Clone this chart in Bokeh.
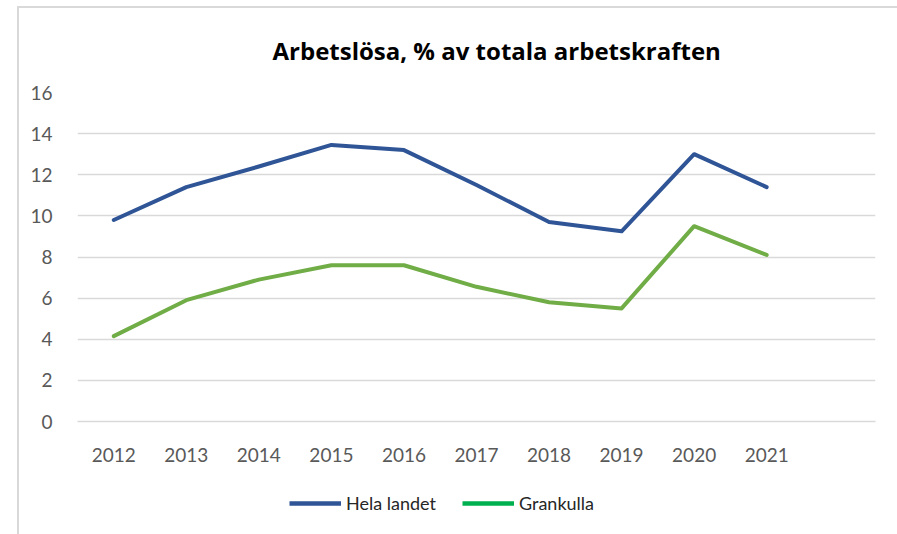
from bokeh.plotting import figure
from bokeh.models import Range1d, FixedTicker, Legend, LegendItem
from bokeh.layouts import column
from bokeh.embed import file_html
from bokeh.resources import INLINE

years = ["2012", "2013", "2014", "2015", "2016", "2017", "2018", "2019", "2020", "2021"]
hela_landet = [9.8, 11.4, 12.4, 13.45, 13.2, 11.5, 9.7, 9.25, 13.0, 11.4]
grankulla = [4.15, 5.9, 6.9, 7.6, 7.6, 6.55, 5.8, 5.5, 9.5, 8.1]
y_ticks = [0, 2, 4, 6, 8, 10, 12, 14, 16]

FONT = "Lato"
BLUE = "#2F5597"
GREEN = "#70AD47"
GREEN_LEGEND = "#00B050"
xs = list(range(len(years)))

p = figure(width=897, height=464, output_backend="svg", toolbar_location=None,
           x_range=Range1d(-0.5, len(years) + 0.5), y_range=Range1d(0, 16),
           min_border_left=77, min_border_right=22, min_border_top=92, min_border_bottom=40,
           border_fill_color=None, background_fill_color=None)

p.title.text = "Arbetslösa, % av totala arbetskraften"
p.title.align = "left"
p.title.offset = 195
p.title.text_font = "Open Sans"
p.title.text_font_size = "24px"
p.title.text_font_style = "bold"
p.title.text_color = "#000000"
p.title.standoff = 52

p.line(xs, hela_landet, line_color=BLUE, line_width=4, line_cap="round", line_join="round")
p.line(xs, grankulla, line_color=GREEN, line_width=4, line_cap="round", line_join="round")

p.xaxis.ticker = FixedTicker(ticks=xs)
p.xaxis.major_label_overrides = {i: y for i, y in enumerate(years)}
p.yaxis.ticker = FixedTicker(ticks=y_ticks)

for ax in (p.xaxis, p.yaxis):
    ax.major_tick_line_color = None
    ax.minor_tick_line_color = None
    ax.major_label_text_font = FONT
    ax.major_label_text_font_size = "19px"
    ax.major_label_text_color = "#595959"
p.yaxis.axis_line_color = None
p.xaxis.axis_line_color = "#d9d9d9"
p.xaxis.axis_line_width = 1.5
p.yaxis.major_label_standoff = 19
p.xaxis.major_label_standoff = 20

p.xgrid.grid_line_color = None
p.ygrid.grid_line_color = "#d9d9d9"
p.ygrid.grid_line_width = 1.5
p.ygrid.ticker = FixedTicker(ticks=y_ticks)
p.outline_line_color = None

# legend strip below the chart
lg = figure(width=897, height=70, output_backend="svg", toolbar_location=None,
            x_range=Range1d(0, 1), y_range=Range1d(0, 1),
            x_axis_location=None, y_axis_location=None,
            min_border=0, border_fill_color=None, background_fill_color=None)
lg.grid.visible = False
lg.outline_line_color = None
l1 = lg.line([0, 1], [hela_landet[0], hela_landet[1]], line_color=BLUE, line_width=4.5, visible=False)
l2 = lg.line([0, 1], [grankulla[0], grankulla[1]], line_color=GREEN_LEGEND, line_width=4.5, visible=False)
legend = Legend(items=[LegendItem(label="Hela landet", renderers=[l1]),
                       LegendItem(label="Grankulla", renderers=[l2])],
                orientation="horizontal", location=(212, 20),
                glyph_width=52, glyph_height=20, label_standoff=5, spacing=26,
                label_text_font=FONT, label_text_font_size="18px", label_text_color="#262626",
                border_line_color=None, background_fill_alpha=0, margin=0, padding=0)
lg.add_layout(legend, "center")

layout = column(p, lg, spacing=0, styles={
    "background": "linear-gradient(#d9d9d9,#d9d9d9) 17px 6px / 2px 100% no-repeat, "
                  "linear-gradient(#d9d9d9,#d9d9d9) 17px 6px / 100% 2px no-repeat, white"})

open("out.html", "w").write(file_html(layout, INLINE))
